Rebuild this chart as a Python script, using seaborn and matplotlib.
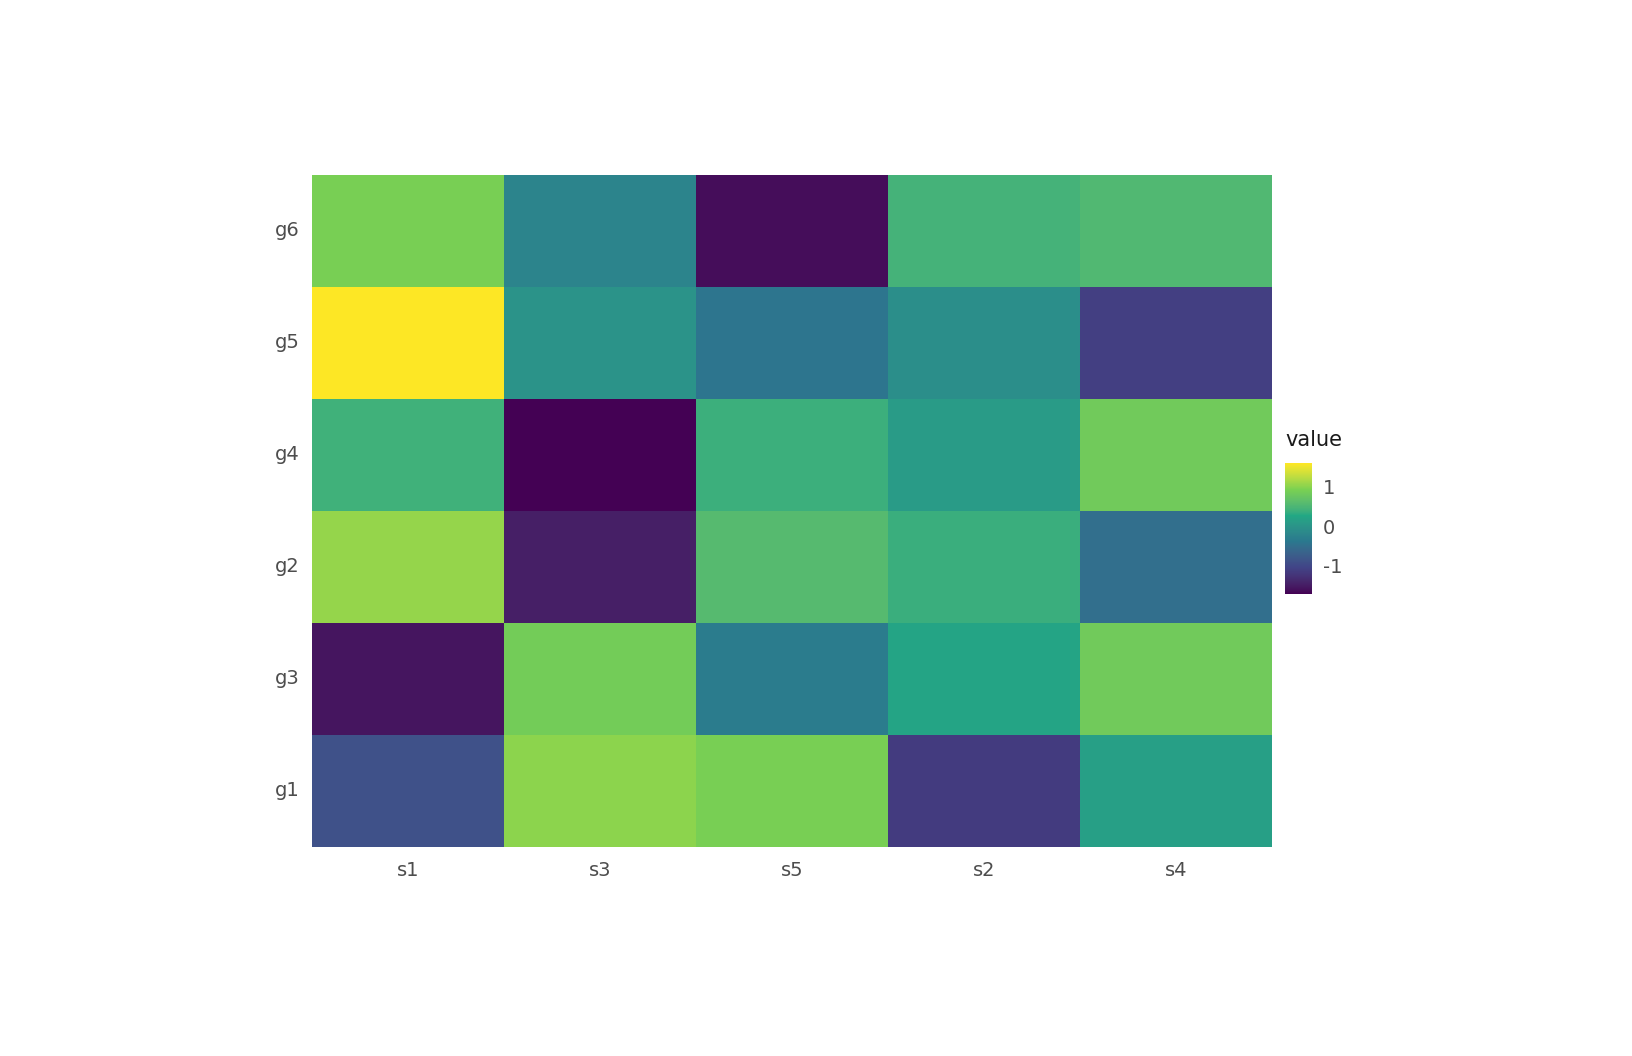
import numpy as np
import pandas as pd
import matplotlib
matplotlib.use('Agg')
import matplotlib.pyplot as plt
from matplotlib.colors import ListedColormap
import seaborn as sns

# linhas de cima para baixo, colunas na ordem do eixo x
linhas = ['g6', 'g5', 'g4', 'g2', 'g3', 'g1']
colunas = ['s1', 's3', 's5', 's2', 's4']

g6 = [0.92, -0.22, -1.64, 0.44, 0.54]
g5 = [1.61, -0.01, -0.43, -0.08, -1.12]
g4 = [0.42, -1.72, 0.40, 0.09, 0.84]
g2 = [1.06, -1.48, 0.58, 0.38, -0.51]
g3 = [-1.57, 0.86, -0.33, 0.23, 0.83]
g1 = [-0.89, 1.02, 0.91, -1.16, 0.16]

df = pd.DataFrame([g6, g5, g4, g2, g3, g1], index=linhas, columns=colunas)

# viridis de 6 cores interpolado em Lab (como o ggplot faz)
ancoras = ['#440154', '#414487', '#2A788E', '#22A884', '#7AD151', '#FDE725']
M = np.array([[0.4124564, 0.3575761, 0.1804375],
              [0.2126729, 0.7151522, 0.0721750],
              [0.0193339, 0.1191920, 0.9503041]])
branco = np.array([0.95047, 1.0, 1.08883])
d = 6 / 29


def para_lab(h):
    c = np.array([int(h[i:i+2], 16) for i in (1, 3, 5)]) / 255.0
    c = np.where(c <= 0.04045, c / 12.92, ((c + 0.055) / 1.055) ** 2.4)
    xyz = M @ c / branco
    fx, fy, fz = np.where(xyz > d ** 3, np.cbrt(xyz), xyz / (3 * d * d) + 4 / 29)
    return np.array([116 * fy - 16, 500 * (fx - fy), 200 * (fy - fz)])


def para_rgb(lab):
    fy = (lab[0] + 16) / 116
    t = np.array([fy + lab[1] / 500, fy, fy - lab[2] / 200])
    xyz = np.where(t > d, t ** 3, 3 * d * d * (t - 4 / 29)) * branco
    c = np.clip(np.linalg.inv(M) @ xyz, 0, 1)
    return np.where(c <= 0.0031308, 12.92 * c, 1.055 * c ** (1 / 2.4) - 0.055)


labs = np.array([para_lab(h) for h in ancoras])
pos = np.linspace(0, 1, len(ancoras))
cores = [para_rgb(np.array([np.interp(t, pos, labs[:, k]) for k in range(3)]))
         for t in np.linspace(0, 1, 256)]
cmap = ListedColormap(np.clip(cores, 0, 1))

sns.set_style('white')
plt.rcParams['font.family'] = ['DejaVu Sans']

fig = plt.figure(figsize=(16.32, 10.56), dpi=100)
ax = fig.add_axes([312/1632, 1 - 847/1056, 960/1632, 672/1056])
cax = fig.add_axes([1285/1632, 1 - 594/1056, 27/1632, 131/1056])

sns.heatmap(df, cmap=cmap, ax=ax, cbar_ax=cax,
            vmin=df.values.min(), vmax=df.values.max())

ax.tick_params(axis='both', length=0, labelsize=14, labelcolor='#4d4d4d')
ax.tick_params(axis='x', pad=10)
ax.tick_params(axis='y', pad=9)
plt.setp(ax.get_yticklabels(), rotation=0)
plt.setp(ax.get_xticklabels(), rotation=0)
ax.set_xlabel('')
ax.set_ylabel('')

cbar = ax.collections[0].colorbar
cbar.outline.set_visible(False)
cbar.set_ticks([-1, 0, 1])
cbar.set_ticklabels(['-1', '0', '1'])
cax.yaxis.set_ticks_position('both')
cax.tick_params(direction='in', color='white', length=5, width=1,
                labelsize=14, labelcolor='#4d4d4d', pad=8)
cax.tick_params(labelleft=False, labelright=True)
fig.text(1285/1632, 1 - 440/1056, 'value', fontsize=15, color='#1a1a1a',
         ha='left', va='center')

fig.savefig('out.png', dpi=100)
